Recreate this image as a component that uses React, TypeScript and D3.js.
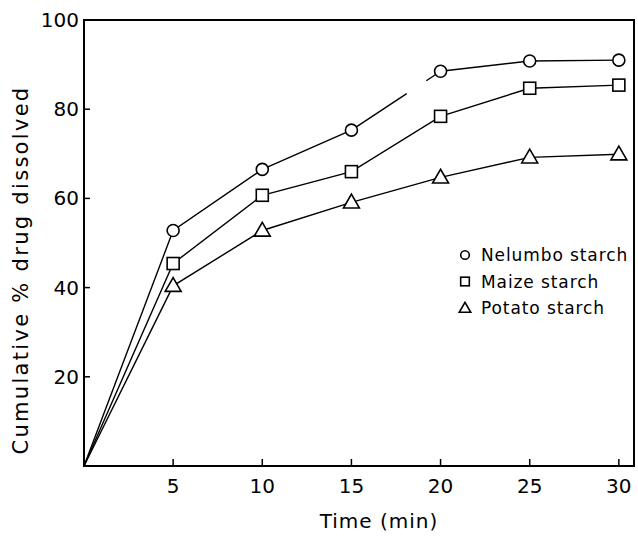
import * as d3 from 'd3';

const times = [0, 5, 10, 15, 20, 25, 30];
const nelumbo = [0, 52.8, 66.5, 75.3, 88.5, 90.8, 91.0];
const maize = [0, 45.4, 60.7, 66.0, 78.4, 84.7, 85.4];
const potato = [0, 40.4, 52.8, 59.1, 64.7, 69.2, 69.9];
const xTicks = [5, 10, 15, 20, 25, 30];
const yTicks = [20, 40, 60, 80, 100];
const legendLabels = ['Nelumbo starch', 'Maize starch', 'Potato starch'];

const W = 638;
const H = 536;
const font = "'DejaVu Sans', sans-serif";

const x = d3.scaleLinear().domain([0, 30.85]).range([84, 634]);
const y = d3.scaleLinear().domain([0, 100]).range([466, 20]);

type Shape = 'circle' | 'square' | 'triangle';

const Marker = ({ cx, cy, shape, s = 1 }: { cx: number; cy: number; shape: Shape; s?: number }) => {
  if (shape === 'circle') return <circle cx={cx} cy={cy} r={6 * s} fill="white" stroke="black" strokeWidth={1.6} />;
  if (shape === 'square')
    return <rect x={cx - 6 * s} y={cy - 6 * s} width={12 * s} height={12 * s} fill="white" stroke="black" strokeWidth={1.6} />;
  const p = d3.symbol(d3.symbolTriangle, 110 * s * s)() as string;
  return <path d={p} transform={`translate(${cx},${cy + 1})`} fill="white" stroke="black" strokeWidth={1.6} />;
};

const App = () => {
  const series: { values: number[]; shape: Shape }[] = [
    { values: nelumbo, shape: 'circle' },
    { values: maize, shape: 'square' },
    { values: potato, shape: 'triangle' },
  ];
  const line = d3.line<number>().x((_, i) => x(times[i])).y(d => y(d));

  // scan has a gap in the Nelumbo line between 15 and 20 min
  const gx0 = x(15), gy0 = y(nelumbo[3]), gx1 = x(20), gy1 = y(nelumbo[4]);
  const segLen = Math.hypot(gx1 - gx0, gy1 - gy0);

  return (
    <svg width={W} height={H} style={{ position: 'absolute', left: 0, top: 0, background: 'white' }}>
      <rect x={x(0)} y={y(100)} width={x(30.85) - x(0)} height={y(0) - y(100)} fill="none" stroke="black" strokeWidth={2} />
      {xTicks.map(t => (
        <g key={t}>
          <line x1={x(t)} x2={x(t)} y1={y(0)} y2={y(0) - 7} stroke="black" strokeWidth={1.5} />
          <text x={x(t)} y={y(0) + 27} textAnchor="middle" fontFamily={font} fontSize={20}>{t}</text>
        </g>
      ))}
      {yTicks.map(t => (
        <g key={t}>
          <line x1={x(0)} x2={x(0) + 6} y1={y(t)} y2={y(t)} stroke="black" strokeWidth={1.5} />
          <text x={x(0) - 5} y={y(t) + 7} textAnchor="end" fontFamily={font} fontSize={20}>{t}</text>
        </g>
      ))}
      {series.map((s, k) =>
        k === 0 ? (
          <g key={k}>
            <path d={line(s.values.slice(0, 4)) as string} fill="none" stroke="black" strokeWidth={1.4} />
            <line x1={gx0} y1={gy0} x2={gx1} y2={gy1} stroke="black" strokeWidth={1.4}
              strokeDasharray={`${segLen * 0.62} ${segLen * 0.22} ${segLen * 0.16}`} />
            <path d={d3.line<number>().x((_, i) => x(times[i + 4])).y(d => y(d))(s.values.slice(4)) as string}
              fill="none" stroke="black" strokeWidth={1.4} />
          </g>
        ) : (
          <path key={k} d={line(s.values) as string} fill="none" stroke="black" strokeWidth={1.4} />
        )
      )}
      {series.map((s, k) =>
        s.values.slice(1).map((v, i) => <Marker key={`${k}-${i}`} cx={x(times[i + 1])} cy={y(v)} shape={s.shape} />)
      )}
      {legendLabels.map((lab, i) => {
        const ly = 261 + i * 26.5;
        return (
          <g key={lab}>
            <Marker cx={465} cy={ly - 6} shape={series[i].shape} s={0.72} />
            <text x={481} y={ly} fontFamily={font} fontSize={17} letterSpacing={0.9}>{lab}</text>
          </g>
        );
      })}
      <text x={379} y={528} textAnchor="middle" fontFamily={font} fontSize={20} letterSpacing={1}>Time (min)</text>
      <text transform={`translate(28,270) rotate(-90)`} textAnchor="middle" fontFamily={font} fontSize={21} letterSpacing={2.3}>
        Cumulative % drug dissolved
      </text>
    </svg>
  );
};

export default App;
